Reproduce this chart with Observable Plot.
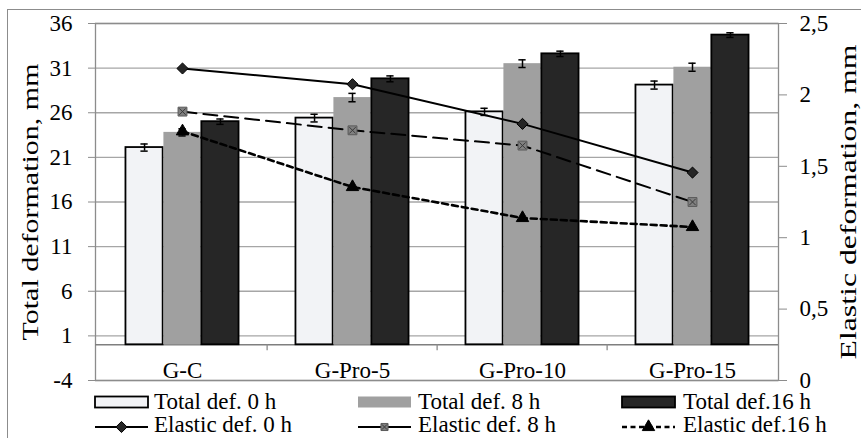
<!DOCTYPE html>
<html>
<head>
<meta charset="utf-8">
<script src="https://cdn.jsdelivr.net/npm/d3@7"></script>
<script src="https://cdn.jsdelivr.net/npm/@observablehq/plot@0.6"></script>
<style>
  html, body { margin: 0; padding: 0; background: white; }
  #wrap { position: relative; width: 861px; height: 438px; overflow: hidden; font-family: "Liberation Serif", "Times New Roman", Times, "DejaVu Serif", serif; }
  #border { position: absolute; left: 7px; top: 9px; width: 900px; height: 500px; border-left: 1.3px solid #8c8c8c; border-top: 1.3px solid #8c8c8c; pointer-events: none; }
  #chart { position: absolute; left: 0; top: 0; }
  #legend { position: absolute; left: 0; top: 0; }
  svg text { font-family: "Liberation Serif", "Times New Roman", Times, "DejaVu Serif", serif; }
</style>
</head>
<body>
<div id="wrap">
  <div id="chart"></div>
  <div id="border"></div>
  <svg id="legend" width="861" height="438"></svg>
</div>
<script>
// ---- data ----
const categories = ["G-C", "G-Pro-5", "G-Pro-10", "G-Pro-15"];
const totalNames = ["Total def. 0 h", "Total def. 8 h", "Total def.16 h"];
const elasticNames = ["Elastic def. 0 h", "Elastic def. 8 h", "Elastic def.16 h"];
const total0h = [22.1, 25.4, 26.1, 29.1];
const total8h = [23.8, 27.7, 31.5, 31.1];
const total16h = [25.0, 29.8, 32.6, 34.7];
const err0h = [0.4, 0.43, 0.4, 0.45];
const err8h = [0.4, 0.47, 0.43, 0.45];
const err16h = [0.3, 0.33, 0.3, 0.26];
const elastic0h = [2.185, 2.075, 1.797, 1.456];
const elastic8h = [1.883, 1.752, 1.645, 1.25];
const elastic16h = [1.745, 1.355, 1.138, 1.075];
const leftTicks = [-4, 1, 6, 11, 16, 21, 26, 31, 36];
const rightTicks = [0, 0.5, 1, 1.5, 2, 2.5];

// ---- styles ----
const barFills = ["#f2f3f6", "#a0a0a0", "#262626"];
const barStrokes = ["black", "none", "black"];
const lineDash = [null, "14,7", "6,4"];
const lineWidth = [2, 2, 2.6];
const gray = "#8c8c8c";
const font = "'Liberation Serif', 'Times New Roman', Times, 'DejaVu Serif', serif";

const W = 861, H = 438;
const mL = 95, mR = 83, mT = 23, mB = 58;
const bw = (W - mL - mR) / categories.length;
const barW = bw / 4.5;
const gap = barW * 0.75;

// right axis (0..2.5) mapped onto left axis (-4..36)
const toLeft = v => -4 + v * 16;

const totals = [total0h, total8h, total16h];
const errs = [err0h, err8h, err16h];
const elastics = [elastic0h, elastic8h, elastic16h];

const barMarks = [];
totals.forEach((vals, s) => {
  const rows = categories.map((c, i) => ({cat: c, v: vals[i], e: errs[s][i]}));
  const inL = gap + s * barW, inR = bw - gap - (s + 1) * barW;
  const center = gap + (s + 0.5) * barW;
  barMarks.push(Plot.barY(rows, {x: "cat", y: "v", fill: barFills[s], stroke: barStrokes[s], strokeWidth: 1.8, insetLeft: inL, insetRight: inR}));
  barMarks.push(Plot.ruleX(rows, {x: "cat", y1: d => d.v - d.e, y2: d => d.v + d.e, dx: center - bw / 2, stroke: "black", strokeWidth: 1.5}));
  barMarks.push(Plot.tickY(rows, {x: "cat", y: d => d.v + d.e, insetLeft: center - 4, insetRight: bw - center - 4, stroke: "black", strokeWidth: 1.5}));
  barMarks.push(Plot.tickY(rows, {x: "cat", y: d => d.v - d.e, insetLeft: center - 4, insetRight: bw - center - 4, stroke: "black", strokeWidth: 1.5}));
});

const lineMarks = [];
elastics.forEach((vals, s) => {
  const rows = categories.map((c, i) => ({cat: c, v: vals[i]}));
  lineMarks.push(Plot.line(rows, {x: "cat", y: d => toLeft(d.v), stroke: "black", strokeWidth: lineWidth[s], strokeDasharray: lineDash[s]}));
});
const dotRows = s => categories.map((c, i) => ({cat: c, v: elastics[s][i]}));
lineMarks.push(Plot.dot(dotRows(0), {x: "cat", y: d => toLeft(d.v), symbol: "diamond2", r: 5, fill: "#262626", stroke: "black", strokeWidth: 1}));
lineMarks.push(Plot.dot(dotRows(1), {x: "cat", y: d => toLeft(d.v), symbol: "square", r: 5, fill: "#808080", stroke: "#5a5a5a", strokeWidth: 1}));
lineMarks.push(Plot.dot(dotRows(1), {x: "cat", y: d => toLeft(d.v), symbol: "times", r: 3, stroke: "#3a3a3a", strokeWidth: 1}));
lineMarks.push(Plot.dot(dotRows(2), {x: "cat", y: d => toLeft(d.v), symbol: "triangle", r: 4.6, fill: "black", stroke: "black", strokeWidth: 1}));

const chart = Plot.plot({
  width: W, height: H,
  marginLeft: mL, marginRight: mR, marginTop: mT, marginBottom: mB,
  style: {fontFamily: font, fontSize: "23px", color: "black", background: "transparent"},
  x: {type: "band", domain: categories, padding: 0, axis: null, label: null},
  y: {domain: [-4, 36], axis: null, label: null},
  marks: [
    Plot.gridY(leftTicks, {stroke: "#a6a6a6", strokeOpacity: 1, strokeWidth: 1.3}),
    Plot.frame({stroke: gray, strokeWidth: 1.3}),
    Plot.ruleY([0], {stroke: "#7f7f7f", strokeWidth: 1.5}),
    Plot.ruleX(categories.slice(1), {x: d => d, y1: 0, y2: 0, insetBottom: -6, dx: -bw / 2, stroke: gray, strokeWidth: 1.3}),
    ...barMarks,
    ...lineMarks,
    Plot.axisX({anchor: "bottom", label: null, tickSize: 0, tickPadding: 0, dy: -19, fontSize: 23}),
    Plot.axisY(leftTicks, {anchor: "left", label: null, tickSize: 7, tickPadding: 16, stroke: gray, tickFormat: d => String(d), fontSize: 23}),
    Plot.axisY(rightTicks.map(toLeft), {anchor: "right", label: null, tickSize: 8, tickPadding: 13, stroke: gray, tickFormat: d => String((d + 4) / 16).replace(".", ","), fontSize: 23}),
    Plot.text(["Total deformation, mm"], {frameAnchor: "left", textAnchor: "middle", dx: -65, rotate: -90, fontSize: 27, fill: "black"}),
    Plot.text(["Elastic deformation, mm"], {frameAnchor: "right", textAnchor: "middle", dx: 70, rotate: -90, fontSize: 27, fill: "black"})
  ]
});
document.getElementById("chart").appendChild(chart);

// fit the rotated axis titles to the reference's length (long, narrow glyphs)
const targets = {"Total deformation, mm": 277, "Elastic deformation, mm": 315};
d3.select(chart).selectAll("text").each(function() {
  const t = this.textContent;
  if (targets[t]) {
    const len = this.getComputedTextLength();
    const k = targets[t] / len;
    const tr = this.getAttribute("transform") || "";
    this.setAttribute("transform", tr + ` scale(${k},0.82)`);
  }
});

// ---- legend ----
const lg = d3.select("#legend");
const cols = [{sx: 95, tx: 154}, {sx: 358, tx: 418}, {sx: 622, tx: 683}];
const swW = 53;
totalNames.forEach((name, s) => {
  const c = cols[s];
  lg.append("rect").attr("x", c.sx).attr("y", 396.5).attr("width", swW).attr("height", 11)
    .attr("fill", barFills[s]).attr("stroke", barStrokes[s]).attr("stroke-width", 1.8);
  lg.append("text").attr("x", c.tx).attr("y", 409).attr("font-size", 23).text(name);
});
const sym = (type, r) => d3.symbol(type, Math.PI * r * r)();
elasticNames.forEach((name, s) => {
  const c = cols[s];
  const y = 427;
  lg.append("line").attr("x1", c.sx).attr("x2", c.sx + swW).attr("y1", y).attr("y2", y)
    .attr("stroke", "black").attr("stroke-width", lineWidth[s]).attr("stroke-dasharray", s === 2 ? "5,3.5" : null);
  const cx = c.sx + swW / 2;
  if (s === 0) lg.append("path").attr("d", sym(d3.symbolDiamond2, 5)).attr("transform", `translate(${cx},${y})`).attr("fill", "#262626").attr("stroke", "black");
  if (s === 1) {
    lg.append("path").attr("d", sym(d3.symbolSquare, 4)).attr("transform", `translate(${cx},${y})`).attr("fill", "#808080").attr("stroke", "#5a5a5a");
    lg.append("path").attr("d", sym(d3.symbolTimes, 2.5)).attr("transform", `translate(${cx},${y})`).attr("fill", "none").attr("stroke", "#3a3a3a");
  }
  if (s === 2) lg.append("path").attr("d", sym(d3.symbolTriangle, 4.6)).attr("transform", `translate(${cx},${y})`).attr("fill", "black").attr("stroke", "black");
  lg.append("text").attr("x", c.tx).attr("y", 432).attr("font-size", 23).text(name);
});
</script>
</body>
</html>
